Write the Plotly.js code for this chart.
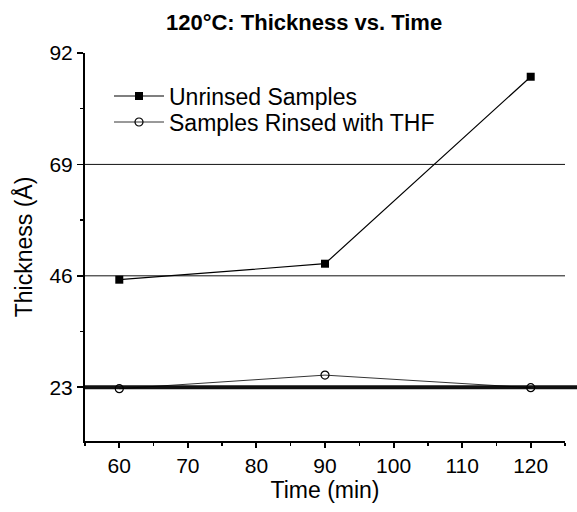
<!DOCTYPE html>
<html><head><meta charset="utf-8">
<script src="https://cdn.plot.ly/plotly-3.0.1.min.js"></script>
<style>body{margin:0;background:#fff}#c{width:577px;height:512px}</style>
</head><body><div id="c"></div>
<script>
var time = [60, 90, 120];
var unrinsed = [45.2, 48.5, 87.1];
var rinsed = [22.7, 25.5, 22.9];
var yTicks = [23, 46, 69, 92];
var xTicks = [60, 70, 80, 90, 100, 110, 120];
var refLines = [23, 46, 69];
var refWidths = [4, 1, 1];
var refEnds = [1.025, 1, 1];

var traces = [
  {x: time, y: unrinsed, name: 'Unrinsed Samples', mode: 'lines+markers', legend: 'legend',
   line: {color: '#000', width: 1.2}, marker: {symbol: 'square', size: 8, color: '#000'}},
  {x: time, y: rinsed, name: 'Samples Rinsed with THF', mode: 'lines+markers', legend: 'legend2',
   line: {color: '#000', width: 0.8}, marker: {symbol: 'circle-open', size: 8, color: '#000', line: {width: 1.2}}}
];
var shapes = refLines.map(function(v, i){
  return {type: 'line', xref: 'paper', yref: 'y', x0: 0, x1: refEnds[i], y0: v, y1: v,
          line: {color: '#111', width: refWidths[i]}, layer: 'below'};
});
var fam = 'Liberation Sans, Arial, sans-serif';
function leg(y){
  return {x: 0.05, y: y, xanchor: 'left', yanchor: 'middle', bgcolor: 'rgba(0,0,0,0)',
          font: {family: fam, size: 23, color: '#000'}, itemwidth: 50};
}
var layout = {
  width: 577, height: 512,
  margin: {l: 85, r: 12, t: 53, b: 71},
  paper_bgcolor: '#fff', plot_bgcolor: '#fff',
  font: {family: fam, color: '#000', size: 21},
  showlegend: true,
  title: {text: '<b>120°C: Thickness vs. Time</b>', xref: 'container', x: 0.527, xanchor: 'center',
          y: 0.957, yanchor: 'middle', font: {family: fam, size: 22, color: '#000'}},
  legend: leg(0.889),
  legend2: leg(0.822),
  xaxis: {range: [55, 125], tickvals: xTicks, ticktext: xTicks.map(String), showgrid: false, zeroline: false,
          showline: true, linecolor: '#000', linewidth: 2, ticks: 'outside', ticklen: 5, tickwidth: 2, tickcolor: '#000',
          minor: {dtick: 5, tick0: 55, ticks: 'outside', ticklen: 3, tickwidth: 1.5, tickcolor: '#000'},
          title: {text: 'Time (min)', standoff: 6, font: {family: fam, size: 23}},
          tickfont: {size: 21}, fixedrange: true},
  yaxis: {range: [11.9, 92], tickvals: yTicks, ticktext: yTicks.map(String), showgrid: false, zeroline: false,
          showline: true, linecolor: '#000', linewidth: 2, ticks: 'outside', ticklen: 6, tickwidth: 1.5, tickcolor: '#000',
          minor: {dtick: 11.5, tick0: 0, ticks: 'outside', ticklen: 3, tickwidth: 1.5, tickcolor: '#000'},
          title: {text: 'Thickness (Å)', standoff: 10, font: {family: fam, size: 23}},
          tickfont: {size: 21}, fixedrange: true},
  shapes: shapes
};
Plotly.newPlot('c', traces, layout, {displayModeBar: false, staticPlot: true});
</script></body></html>
